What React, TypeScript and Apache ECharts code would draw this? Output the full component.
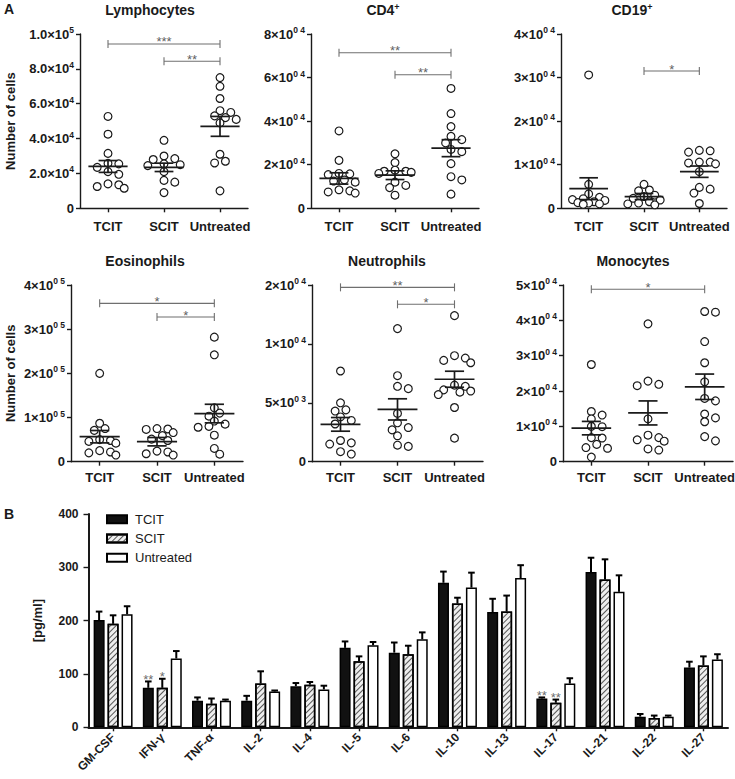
import React, { useEffect, useRef } from "react";
import * as echarts from "echarts";

const FONT = "'Liberation Sans', Arial, Helvetica, sans-serif";
const INK = "#1a1a1a";
const GREY = "#6f6f6f";

const groups = ["TCIT", "SCIT", "Untreated"];

// ---------- Lymphocytes ----------
const lymphoTCIT = [52700, 42500, 31500, 25800, 25500, 23500, 21000, 19500, 14000, 13500, 12500, 11500];
const lymphoSCIT = [39000, 30000, 28500, 28000, 25500, 25000, 24500, 21000, 16000, 15000, 9000];
const lymphoUntreated = [75000, 70000, 63000, 56000, 55000, 53000, 52000, 51000, 49000, 31000, 27000, 26000, 10000];
const lymphoMean = [24000, 23500, 47000];
const lymphoSEM = [3400, 2400, 5700];
const lymphoTicks = [["0", ""], ["2.0×10", "4"], ["4.0×10", "4"], ["6.0×10", "4"], ["8.0×10", "4"], ["1.0×10", "5"]];
const lymphoBrackets: [number, number, number, string][] = [[0, 2, 94300, "***"], [1, 2, 84400, "**"]];

// ---------- CD4+ ----------
const cd4TCIT = [35500, 22000, 16000, 15800, 15500, 13000, 12500, 12000, 8500, 8000, 7500, 7000];
const cd4SCIT = [25000, 21000, 17500, 17000, 17000, 16500, 16000, 12000, 10500, 9500, 6000];
const cd4Untreated = [55000, 43500, 37500, 33000, 31500, 30000, 27000, 26000, 20500, 14500, 13000, 6500];
const cd4Mean = [13700, 15200, 27600];
const cd4SEM = [2600, 2000, 3900];
const cd4Ticks = [["0", ""], ["2×10", "0 4"], ["4×10", "0 4"], ["6×10", "0 4"], ["8×10", "0 4"]];
const cd4Brackets: [number, number, number, string][] = [[0, 2, 71400, "**"], [1, 2, 61300, "**"]];

// ---------- CD19+ ----------
const cd19TCIT = [30600, 5500, 3300, 2500, 2200, 2000, 1800, 1500, 1300, 1200, 1000, 900];
const cd19SCIT = [5500, 4200, 4000, 3000, 2700, 2300, 1900, 1500, 1200, 1000, 800];
const cd19Untreated = [13300, 13200, 12900, 10600, 10600, 10400, 10200, 8400, 4800, 4400, 3500, 1100];
const cd19Mean = [4500, 2700, 8400];
const cd19SEM = [2500, 700, 1300];
const cd19Ticks = [["0", ""], ["1×10", "0 4"], ["2×10", "0 4"], ["3×10", "0 4"], ["4×10", "0 4"]];
const cd19Brackets: [number, number, number, string][] = [[1, 2, 31500, "*"]];

// ---------- Eosinophils ----------
const eosTCIT = [200000, 87000, 75000, 71000, 50000, 48000, 46000, 42000, 25000, 22000, 20000, 15000];
const eosSCIT = [75000, 74000, 73000, 66000, 59000, 51000, 48000, 24000, 22000, 18000, 15000];
const eosUntreated = [282000, 242000, 122000, 110000, 103000, 92000, 85000, 80000, 78000, 60000, 30000, 17000];
const eosMean = [56600, 45300, 109000];
const eosSEM = [14000, 9500, 21000];
const eosTicks = [["0", ""], ["1×10", "0 5"], ["2×10", "0 5"], ["3×10", "0 5"], ["4×10", "0 5"]];
const eosBrackets: [number, number, number, string][] = [[0, 2, 358500, "*"], [1, 2, 327500, "*"]];

// ---------- Neutrophils ----------
const neuTCIT = [7700, 5000, 4400, 4300, 3800, 3500, 3200, 1800, 1600, 1500, 850, 650];
const neuSCIT = [11300, 7300, 6400, 6200, 4100, 3300, 2900, 2700, 2200, 1400, 1300];
const neuUntreated = [12400, 9000, 8800, 8600, 8400, 6500, 6400, 6100, 6000, 5900, 5700, 4600, 2000];
const neuMean = [3170, 4440, 7000];
const neuSEM = [580, 900, 680];
const neuTicks = [["0", ""], ["5×10", "0 3"], ["1×10", "0 4"], ["2×10", "0 4"]];
const neuBrackets: [number, number, number, string][] = [[0, 2, 14800, "**"], [1, 2, 13360, "*"]];

// ---------- Monocytes ----------
const monoTCIT = [27500, 14200, 13200, 12100, 10000, 9900, 6800, 6700, 4900, 4000, 3800, 1300];
const monoSCIT = [39000, 22800, 21900, 21500, 12100, 7500, 6800, 6200, 5800, 3600, 3300];
const monoUntreated = [42500, 42300, 34000, 28000, 22600, 17900, 17200, 13500, 12400, 11300, 7100, 5900];
const monoMean = [9500, 13800, 21200];
const monoSEM = [1900, 3400, 3600];
const monoTicks = [["0", ""], ["1×10", "0 4"], ["2×10", "0 4"], ["3×10", "0 4"], ["4×10", "0 4"], ["5×10", "0 4"]];
const monoBrackets: [number, number, number, string][] = [[0, 2, 48800, "*"]];

// ---------- Cytokines (panel B) ----------
const cytokines = ["GM-CSF", "IFN-γ", "TNF-α", "IL-2", "IL-4", "IL-5", "IL-6", "IL-10", "IL-13", "IL-17", "IL-21", "IL-22", "IL-27"];
const tcitMean = [201, 74, 50, 50, 77, 149, 140, 271, 216, 54, 291, 20, 112];
const tcitSEM = [16, 12, 6, 9, 6, 12, 19, 21, 25, 2, 27, 5, 11];
const tcitStars = ["", "**", "", "", "", "", "", "", "", "**", "", "", ""];
const scitMean = [194, 74, 44, 82, 80, 124, 137, 232, 217, 46, 277, 17.5, 116];
const scitSEM = [16, 17, 10, 23, 5, 9, 16, 11, 30, 6, 38, 4.5, 17];
const scitStars = ["", "*", "", "", "", "", "", "", "", "**", "", "", ""];
const untrMean = [212, 129, 50, 67, 71, 154, 165, 262, 280, 82, 254, 20, 127];
const untrSEM = [15, 14, 2, 2, 7, 6, 13, 28, 24, 10, 31, 2, 10];
const untrStars = ["", "", "", "", "", "", "", "", "", "", "", "", ""];
const barTicks = [0, 100, 200, 300, 400];

const panelDefs = [
  { title: "Lymphocytes", sup: "", values: [lymphoTCIT, lymphoSCIT, lymphoUntreated], mean: lymphoMean, sem: lymphoSEM, ticks: lymphoTicks, max: 100000, interval: 20000, brackets: lymphoBrackets, yName: "Number of cells" },
  { title: "CD4", sup: "+", values: [cd4TCIT, cd4SCIT, cd4Untreated], mean: cd4Mean, sem: cd4SEM, ticks: cd4Ticks, max: 80000, interval: 20000, brackets: cd4Brackets, yName: "" },
  { title: "CD19", sup: "+", values: [cd19TCIT, cd19SCIT, cd19Untreated], mean: cd19Mean, sem: cd19SEM, ticks: cd19Ticks, max: 40000, interval: 10000, brackets: cd19Brackets, yName: "" },
  { title: "Eosinophils", sup: "", values: [eosTCIT, eosSCIT, eosUntreated], mean: eosMean, sem: eosSEM, ticks: eosTicks, max: 400000, interval: 100000, brackets: eosBrackets, yName: "Number of cells" },
  { title: "Neutrophils", sup: "", values: [neuTCIT, neuSCIT, neuUntreated], mean: neuMean, sem: neuSEM, ticks: neuTicks, max: 15000, interval: 5000, brackets: neuBrackets, yName: "" },
  { title: "Monocytes", sup: "", values: [monoTCIT, monoSCIT, monoUntreated], mean: monoMean, sem: monoSEM, ticks: monoTicks, max: 50000, interval: 10000, brackets: monoBrackets, yName: "" },
];

const panelBoxes = [
  { left: 80, top: 34, width: 168, height: 174.3, titleX: 150, titleY: 10, nameGap: 63, labelMargin: 12 },
  { left: 311, top: 34, width: 168, height: 174.3, titleX: 383, titleY: 10, nameGap: 60, labelMargin: 12 },
  { left: 561, top: 34, width: 166, height: 174.3, titleX: 632, titleY: 10, nameGap: 60, labelMargin: 12 },
  { left: 71, top: 285, width: 172, height: 176.7, titleX: 145, titleY: 261, nameGap: 54, labelMargin: 9 },
  { left: 312, top: 285, width: 171, height: 176.7, titleX: 387, titleY: 261, nameGap: 60, labelMargin: 9 },
  { left: 563, top: 285, width: 170, height: 176.7, titleX: 633, titleY: 261, nameGap: 60, labelMargin: 9 },
];

// beeswarm-style horizontal spread (in category units) so that circles overlap as little as possible
function swarm(values: number[], pxPerUnitY: number, catPx: number): number[] {
  const diameter = 7.2;
  const step = 5.4;
  const maxK = 6;
  const order = values.map((_, i) => i).sort((a, b) => values[b] - values[a]);
  const placed: { x: number; y: number }[] = [];
  const offs = new Array(values.length).fill(0);
  for (const i of order) {
    const y = values[i] * pxPerUnitY;
    let bestX = 0;
    let bestD = -1;
    for (let k = 0; k <= maxK; k++) {
      const m = k === 0 ? 0 : k % 2 === 1 ? Math.ceil(k / 2) : -Math.ceil(k / 2);
      const x = m * step;
      const d = placed.reduce((acc, p) => Math.min(acc, Math.hypot(p.x - x, p.y - y)), Infinity);
      if (d >= diameter) { bestX = x; bestD = d; break; }
      if (d > bestD) { bestD = d; bestX = x; }
    }
    placed.push({ x: bestX, y });
    offs[i] = bestX / catPx;
  }
  return offs;
}

function starSeries(xi: number, data: any[], labels: string[], color: string, offsetX = 0) {
  return {
    type: "scatter", xAxisIndex: xi, yAxisIndex: xi, silent: true, z: 5,
    data, symbol: "circle", symbolSize: 1,
    itemStyle: { color: "rgba(0,0,0,0)" },
    label: {
      show: true, position: "top", distance: 0, offset: [offsetX, 5],
      formatter: (p: any) => labels[p.dataIndex] ?? "",
      fontFamily: FONT, fontSize: 13, color,
    },
  };
}

function buildOption() {
  const grids: any[] = [];
  const xAxes: any[] = [];
  const yAxes: any[] = [];
  const series: any[] = [];
  const graphics: any[] = [];

  const axisLineStyle = { color: INK, width: 1.4 };

  panelDefs.forEach((p, i) => {
    const b = panelBoxes[i];
    grids.push({ left: b.left, top: b.top, width: b.width, height: b.height, containLabel: false, outerBoundsMode: "none" });
    xAxes.push({
      gridIndex: i, type: "value", min: -0.5, max: 2.5,
      splitLine: { show: false },
      axisLine: { show: true, onZero: false, lineStyle: axisLineStyle },
      axisTick: { show: true, customValues: [0, 1, 2], length: 4, lineStyle: axisLineStyle },
      axisLabel: {
        customValues: [0, 1, 2], formatter: (v: number) => groups[Math.round(v)] ?? "",
        fontFamily: FONT, fontWeight: "bold", fontSize: 13, color: INK, margin: b.labelMargin,
      },
    });
    const ticks = p.ticks;
    yAxes.push({
      gridIndex: i, type: "value", min: 0, max: p.max, interval: p.interval,
      splitLine: { show: false },
      axisLine: { show: true, onZero: false, lineStyle: axisLineStyle },
      axisTick: { show: true, length: 4, lineStyle: axisLineStyle },
      axisLabel: {
        margin: 6,
        formatter: (v: number) => {
          const t = ticks[Math.round(v / p.interval)];
          if (!t) return "";
          return t[1] ? `{m|${t[0]}}{s|${t[1]}}` : `{m|${t[0]}}`;
        },
        rich: {
          m: { fontFamily: FONT, fontWeight: "bold", fontSize: 13, color: INK, lineHeight: 17 },
          s: { fontFamily: FONT, fontWeight: "bold", fontSize: 8.5, color: INK, verticalAlign: "top", lineHeight: 10 },
        },
      },
      name: p.yName, nameLocation: "middle", nameGap: b.nameGap, nameRotate: 90,
      nameTextStyle: { fontFamily: FONT, fontWeight: "bold", fontSize: 13, color: INK },
    });
    const pxY = b.height / p.max;
    const catPx = b.width / 3;
    p.values.forEach((vals, g) => {
      const offs = swarm(vals, pxY, catPx);
      series.push({
        type: "scatter", xAxisIndex: i, yAxisIndex: i, silent: true, z: 2,
        data: vals.map((v, k) => [g + offs[k], v]),
        symbol: "circle", symbolSize: 7.8,
        itemStyle: { color: "#ffffff", borderColor: INK, borderWidth: 1.2, opacity: 1 },
      });
    });
    series.push({
      type: "custom", xAxisIndex: i, yAxisIndex: i, silent: true, z: 3,
      data: p.mean.map((m, g) => [g, m, p.sem[g]]),
      renderItem: (_params: any, api: any) => {
        const c = api.value(0), m = api.value(1), s = api.value(2);
        const pl = api.coord([c - 0.35, m]);
        const pr = api.coord([c + 0.35, m]);
        const pt = api.coord([c, m + s]);
        const pb = api.coord([c, m - s]);
        const cw = (pr[0] - pl[0]) * 0.24;
        const st = { stroke: INK, lineWidth: 1.7 };
        return {
          type: "group",
          children: [
            { type: "line", shape: { x1: pl[0], y1: pl[1], x2: pr[0], y2: pr[1] }, style: st },
            { type: "line", shape: { x1: pt[0], y1: pt[1], x2: pb[0], y2: pb[1] }, style: st },
            { type: "line", shape: { x1: pt[0] - cw, y1: pt[1], x2: pt[0] + cw, y2: pt[1] }, style: st },
            { type: "line", shape: { x1: pb[0] - cw, y1: pb[1], x2: pb[0] + cw, y2: pb[1] }, style: st },
          ],
        };
      },
    });
    const br = p.brackets;
    series.push({
      type: "custom", xAxisIndex: i, yAxisIndex: i, silent: true, z: 3,
      data: br.map((d) => [d[0], d[2], d[1]]),
      renderItem: (params: any, api: any) => {
        const d = br[params.dataIndex];
        const a = api.coord([d[0], d[2]]);
        const e = api.coord([d[1], d[2]]);
        const st = { stroke: GREY, lineWidth: 1.1 };
        return {
          type: "group",
          children: [
            { type: "line", shape: { x1: a[0], y1: a[1], x2: e[0], y2: e[1] }, style: st },
            { type: "line", shape: { x1: a[0], y1: a[1] - 4, x2: a[0], y2: a[1] + 4 }, style: st },
            { type: "line", shape: { x1: e[0], y1: e[1] - 4, x2: e[0], y2: e[1] + 4 }, style: st },
          ],
        };
      },
    });
    series.push(starSeries(i, br.map((d) => [(d[0] + d[1]) / 2, d[2]]), br.map((d) => d[3]), "#333333"));
    graphics.push({
      type: "text", x: b.titleX, y: b.titleY,
      style: {
        text: p.sup ? `{t|${p.title}}{u|${p.sup}}` : `{t|${p.title}}`,
        rich: {
          t: { fontFamily: FONT, fontWeight: "bold", fontSize: 14, fill: INK, lineHeight: 16 },
          u: { fontFamily: FONT, fontWeight: "bold", fontSize: 9, fill: INK, verticalAlign: "top", lineHeight: 10 },
        },
        align: "center", verticalAlign: "middle",
      },
    });
  });

  // ---------- Panel B: bar chart ----------
  const bi = 6;
  grids.push({ left: 88.5, top: 514, width: 639.5, height: 213.3, containLabel: false, outerBoundsMode: "none" });
  const barLine = { color: INK, width: 2 };
  xAxes.push({
    gridIndex: bi, type: "category", data: cytokines,
    axisLine: { show: true, lineStyle: barLine },
    axisTick: { show: true, alignWithLabel: true, length: 4, lineStyle: { color: INK, width: 1.4 } },
    axisLabel: { interval: 0, rotate: 45, fontFamily: FONT, fontWeight: "bold", fontSize: 12, color: INK, margin: 8 },
  });
  yAxes.push({
    gridIndex: bi, type: "value", min: barTicks[0], max: barTicks[barTicks.length - 1], interval: barTicks[1] - barTicks[0],
    splitLine: { show: false },
    axisLine: { show: true, onZero: false, lineStyle: barLine },
    axisTick: { show: true, length: 5, lineStyle: { color: INK, width: 1.4 } },
    axisLabel: { fontFamily: FONT, fontWeight: "bold", fontSize: 12, color: INK, margin: 10 },
    name: "[pg/ml]", nameLocation: "middle", nameGap: 45, nameRotate: 90,
    nameTextStyle: { fontFamily: FONT, fontWeight: "bold", fontSize: 13, color: INK },
  });
  const barSets = [
    { name: "TCIT", mean: tcitMean, sem: tcitSEM, stars: tcitStars, itemStyle: { color: "#111111", borderColor: "#000", borderWidth: 1.5 } },
    {
      name: "SCIT", mean: scitMean, sem: scitSEM, stars: scitStars,
      itemStyle: {
        color: "#eeeeee", borderColor: "#000", borderWidth: 1.5,
        decal: { symbol: "rect", symbolSize: 1, dashArrayX: [1, 0], dashArrayY: [1, 2.6], rotation: -Math.PI / 4, color: "#555555" },
      },
    },
    { name: "Untreated", mean: untrMean, sem: untrSEM, stars: untrStars, itemStyle: { color: "#ffffff", borderColor: "#000", borderWidth: 1.5 } },
  ];
  barSets.forEach((s) => {
    series.push({
      name: s.name, type: "bar", xAxisIndex: bi, yAxisIndex: bi, data: s.mean,
      barWidth: 11, barGap: "27%", itemStyle: s.itemStyle, silent: true,
    });
  });
  barSets.forEach((s, k) => {
    series.push({
      type: "custom", xAxisIndex: bi, yAxisIndex: bi, silent: true, z: 4,
      data: s.mean.map((m, c) => [c, m, s.sem[c]]),
      renderItem: (_params: any, api: any) => {
        const c = api.value(0), m = api.value(1), e = api.value(2);
        const p0 = api.coord([c, m]);
        const p1 = api.coord([c, m + e]);
        const x = p0[0] + (k - 1) * 14;
        const st = { stroke: "#000", lineWidth: 2 };
        return {
          type: "group",
          children: [
            { type: "line", shape: { x1: x, y1: p0[1], x2: x, y2: p1[1] }, style: st },
            { type: "line", shape: { x1: x - 3.3, y1: p1[1], x2: x + 3.3, y2: p1[1] }, style: st },
          ],
        };
      },
    });
    series.push(starSeries(bi, s.mean.map((m, c) => [c, m + s.sem[c]]), s.stars, "#444444", (k - 1) * 14));
  });

  graphics.push(
    { type: "text", x: 4, y: 9, style: { text: "A", fontFamily: FONT, fontWeight: "bold", fontSize: 14, fill: INK, align: "left", verticalAlign: "middle" } },
    { type: "text", x: 4, y: 514, style: { text: "B", fontFamily: FONT, fontWeight: "bold", fontSize: 14, fill: INK, align: "left", verticalAlign: "middle" } }
  );

  return {
    animation: false,
    backgroundColor: "#ffffff",
    grid: grids,
    xAxis: xAxes,
    yAxis: yAxes,
    series,
    graphic: graphics,
    legend: {
      data: ["TCIT", "SCIT", "Untreated"], orient: "vertical", left: 101, top: 507,
      itemWidth: 20, itemHeight: 8, itemGap: 5, icon: "rect", selectedMode: false,
      textStyle: { fontFamily: FONT, fontSize: 13, color: INK, lineHeight: 14.3, padding: [0, 0, 0, 3] },
    },
  };
}

export default function App() {
  const ref = useRef<HTMLDivElement>(null);
  useEffect(() => {
    document.body.style.margin = "0";
    if (!ref.current) return;
    const chart = echarts.init(ref.current, undefined, { renderer: "svg" });
    chart.setOption(buildOption() as any);
    return () => chart.dispose();
  }, []);
  return <div ref={ref} style={{ width: 735, height: 779 }} />;
}
